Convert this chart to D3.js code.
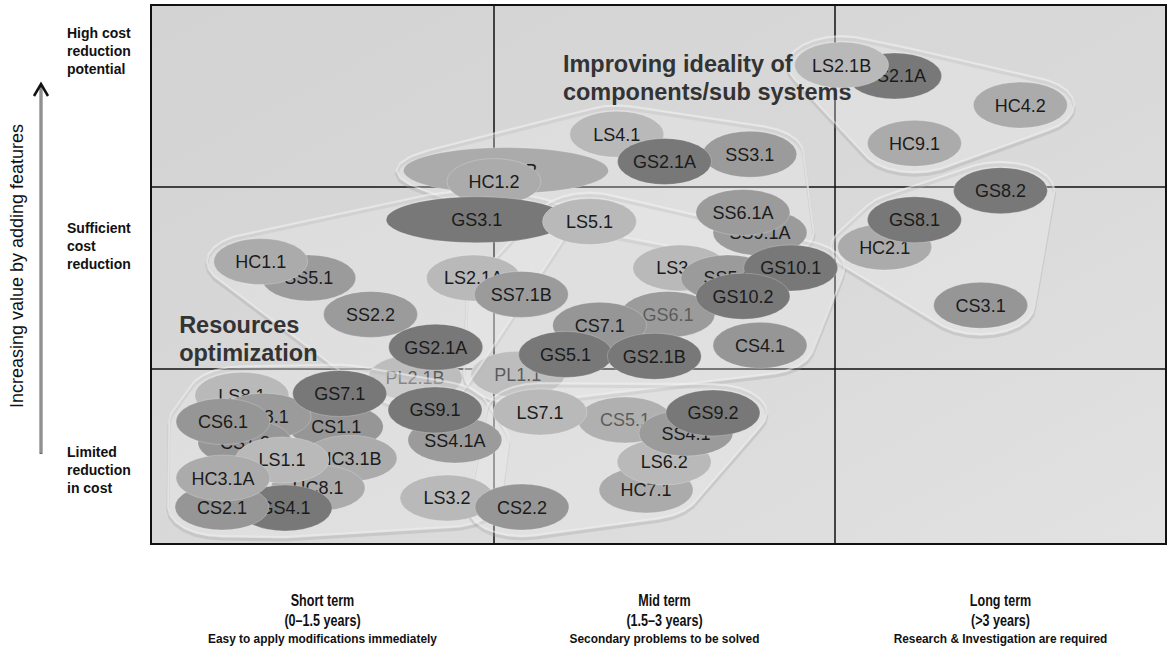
<!DOCTYPE html>
<html><head><meta charset="utf-8">
<script src="https://cdn.jsdelivr.net/npm/d3@7"></script>
<style>body{margin:0;background:#fff}svg{display:block}</style>
</head><body>
<svg id="chart" width="1168" height="651"></svg>
<script>
// ---------- data ----------
const termLabels = ["Short term", "Mid term", "Long term"];
const termRanges = ["(0–1.5 years)", "(1.5–3 years)", "(>3 years)"];
const termNotes = ["Easy to apply modifications immediately", "Secondary problems to be solved", "Research & Investigation are required"];
const costLevelLabels = [["Limited", "reduction", "in cost"], ["Sufficient", "cost", "reduction"], ["High cost", "reduction", "potential"]];
const costLevelAnchors = [0.5, 1.75, 2.82];
const axisTitle = "Increasing value by adding features";
const zoneLabels = [
  { lines: ["Resources", "optimization"], term: 0.082, cost: 1.2 },
  { lines: ["Improving ideality of", "components/sub systems"], term: 1.202, cost: 2.63 }
];
// label, term (0-3), cost level (0-3), cluster
const ideas = [
  ["GS2.1A", 2.18, 2.61, "R1"], ["LS2.1B", 2.02, 2.67, "R1"], ["HC4.2", 2.56, 2.45, "R1"], ["HC9.1", 2.24, 2.24, "R1"],
  ["GS8.2", 2.50, 1.98, "R2"], ["HC2.1", 2.15, 1.67, "R2"], ["GS8.1", 2.24, 1.82, "R2"], ["CS3.1", 2.44, 1.35, "R2"],
  ["HC1.1B", 1.035, 2.09, "T"], ["LS4.1", 1.36, 2.29, "T"], ["SS3.1", 1.75, 2.18, "T"], ["GS2.1A", 1.50, 2.14, "T"],
  ["HC1.2", 1.00, 2.03, "T"], ["GS3.1", 0.95, 1.82, "L"], ["LS5.1", 1.28, 1.81, "M"], ["SS9.1A", 1.78, 1.75, "T"],
  ["SS6.1A", 1.73, 1.86, "T"], ["LS3.1", 1.545, 1.555, "M"], ["SS5.2", 1.686, 1.50, "M"], ["GS10.1", 1.87, 1.555, "M"],
  ["GS10.2", 1.73, 1.40, "M"], ["LS2.1A", 0.94, 1.50, "L"], ["SS7.1B", 1.08, 1.41, "M"], ["GS6.1", 1.51, 1.30, "M"],
  ["CS7.1", 1.31, 1.24, "M"], ["CS4.1", 1.78, 1.13, "M"], ["GS5.1", 1.21, 1.08, "M"], ["GS2.1B", 1.47, 1.07, "M"],
  ["SS5.1", 0.46, 1.50, "L"], ["HC1.1", 0.32, 1.59, "L"], ["SS2.2", 0.64, 1.30, "L"], ["GS2.1A", 0.83, 1.12, "L"],
  ["PL2.1B", 0.77, 0.95, "L"], ["PL1.1", 1.07, 0.97, "M"],
  ["CS1.1", 0.54, 0.67, "B"], ["LS8.1", 0.265, 0.85, "B"], ["SS8.1", 0.33, 0.73, "B"], ["GS7.1", 0.55, 0.86, "B"],
  ["CS1.2", 0.274, 0.58, "B"], ["CS6.1", 0.21, 0.70, "B"], ["LS7.1", 1.135, 0.754, "BM"], ["SS4.1A", 0.886, 0.594, "B"],
  ["GS9.1", 0.828, 0.766, "B"], ["HC3.1B", 0.58, 0.49, "B"], ["HC8.1", 0.487, 0.32, "B"], ["LS1.1", 0.382, 0.48, "B"],
  ["GS4.1", 0.391, 0.206, "B"], ["CS2.1", 0.207, 0.211, "B"], ["HC3.1A", 0.21, 0.377, "B"], ["LS3.2", 0.863, 0.263, "B"],
  ["CS2.2", 1.082, 0.211, "BM"], ["CS5.1", 1.384, 0.709, "BM"], ["HC7.1", 1.446, 0.309, "BM"], ["LS6.2", 1.499, 0.469, "BM"],
  ["SS4.1", 1.563, 0.634, "BM"], ["GS9.2", 1.642, 0.749, "BM"]
];
// ideas with an unusually long time span (term units)
const termSpans = { "GS3.1": 0.53, "HC1.1B": 0.60 };
const behindHull = ["GS6.1", "PL2.1B", "PL1.1", "CS5.1"];

// ---------- layout ----------
const svg = d3.select("#chart");
const x = d3.scaleLinear().domain([0, 1, 2, 3]).range([151, 494, 835, 1166]);
const y = d3.scaleLinear().domain([0, 1, 2, 3]).range([544, 369, 187, 5]);
const tone = d3.scaleOrdinal().domain(["GS", "SS", "CS", "HC", "LS", "PL"])
  .range(["#787878", "#9b9b9b", "#969696", "#ababab", "#b9b9b9", "#a8a8a8"]);
const RX = 47, RY = 23;
const FONT = "Liberation Sans, Arial, sans-serif";

const defs = svg.append("defs");
const bg = defs.append("linearGradient").attr("id", "bg").attr("x1", 0).attr("y1", 0).attr("x2", 1).attr("y2", 1);
bg.append("stop").attr("offset", "0%").attr("stop-color", "#d3d3d3");
bg.append("stop").attr("offset", "55%").attr("stop-color", "#d9d9d9");
bg.append("stop").attr("offset", "100%").attr("stop-color", "#e2e2e2");

const X0 = x(0), X3 = x(3), Y0 = y(0), Y3 = y(3);
svg.append("rect").attr("x", X0).attr("y", Y3).attr("width", X3 - X0).attr("height", Y0 - Y3).attr("fill", "url(#bg)");

// quadrant grid
const grid = svg.append("g").attr("stroke", "#111").attr("stroke-width", 1.5);
[1, 2].forEach(v => {
  grid.append("line").attr("x1", x(v)).attr("x2", x(v)).attr("y1", Y3).attr("y2", Y0);
  grid.append("line").attr("x1", X0).attr("x2", X3).attr("y1", y(v)).attr("y2", y(v));
});

const items = ideas.map(d => {
  const span = termSpans[d[0]];
  const cx = x(d[1]), cy = y(d[2]);
  const rx = span ? (x(d[1] + span / 2) - x(d[1] - span / 2)) / 2 : RX;
  return { label: d[0], cx, cy, rx, ry: RY, group: d[3], prefix: d[0].slice(0, 2), behind: behindHull.includes(d[0]) };
});

function drawIdeas(sel, data) {
  const g = sel.selectAll("g.idea").data(data).join("g").attr("class", "idea");
  g.append("ellipse").attr("cx", d => d.cx).attr("cy", d => d.cy).attr("rx", d => d.rx).attr("ry", d => d.ry)
    .attr("fill", d => tone(d.prefix)).attr("stroke", "rgba(255,255,255,0.22)").attr("stroke-width", 1);
  g.append("text").attr("x", d => d.cx).attr("y", d => d.cy).attr("dy", "0.36em").attr("text-anchor", "middle")
    .attr("font-family", FONT).attr("font-size", 18).attr("fill", "#1b1b1b")
    .text(d => d.label);
}

drawIdeas(svg.append("g"), items.filter(d => d.behind));

// translucent cluster hulls
const hullLayer = svg.append("g");
const groups = d3.group(items, d => d.group);
const line = d3.line().curve(d3.curveLinearClosed);
for (const [key, arr] of groups) {
  const pts = [];
  arr.forEach(d => {
    for (let k = 0; k < 24; k++) {
      const a = k / 24 * Math.PI * 2;
      pts.push([d.cx + (d.rx + 7) * Math.cos(a), d.cy + (d.ry + 6) * Math.sin(a)]);
    }
  });
  const hull = d3.polygonHull(pts);
  hullLayer.append("path").attr("d", line(hull)).attr("transform", "translate(0,3)")
    .attr("fill", "none").attr("stroke", "#a0a0a0").attr("stroke-opacity", 0.3).attr("stroke-width", 3);
  hullLayer.append("path").attr("d", line(hull))
    .attr("fill", "#eeeeee").attr("fill-opacity", 0.3)
    .attr("stroke", "#f0f0f0").attr("stroke-opacity", 0.55).attr("stroke-width", 2);
}

// zone annotations
const zl = svg.append("g").attr("font-family", FONT).attr("font-weight", "bold")
  .attr("font-size", 23.5).attr("fill", "#333");
zoneLabels.forEach(z => {
  const t = zl.append("text").attr("x", x(z.term)).attr("y", y(z.cost));
  z.lines.forEach((l, i) => t.append("tspan").attr("x", x(z.term)).attr("dy", i ? 28 : 0).text(l));
});

drawIdeas(svg.append("g"), items.filter(d => !d.behind));

// border
svg.append("rect").attr("x", X0).attr("y", Y3).attr("width", X3 - X0).attr("height", Y0 - Y3)
  .attr("fill", "none").attr("stroke", "#111").attr("stroke-width", 2);

// y-side labels
const yl = svg.append("g").attr("font-family", FONT).attr("font-weight", "bold")
  .attr("font-size", 14).attr("fill", "#111");
costLevelLabels.forEach((lines, i) => {
  const t = yl.append("text").attr("x", 67).attr("y", y(costLevelAnchors[i]));
  lines.forEach((l, j) => t.append("tspan").attr("x", 67).attr("dy", j ? 18 : 0).text(l));
});

// vertical arrow + title
const ax = svg.append("g");
ax.append("line").attr("x1", 41).attr("x2", 41).attr("y1", 85).attr("y2", 454).attr("stroke", "#666").attr("stroke-width", 3);
ax.append("line").attr("x1", 41).attr("x2", 41).attr("y1", 88).attr("y2", 453).attr("stroke", "#bbb").attr("stroke-width", 1);
ax.append("path").attr("d", "M34,96 L41,84 L48,96").attr("fill", "none").attr("stroke", "#111").attr("stroke-width", 2.5);
svg.append("text").attr("transform", "translate(23,266) rotate(-90)").attr("text-anchor", "middle")
  .attr("font-family", FONT).attr("font-size", 18).attr("fill", "#111").text(axisTitle);

// x-side labels
const xl = svg.append("g").attr("font-family", FONT).attr("font-weight", "bold").attr("fill", "#111");
termLabels.forEach((t, i) => {
  const cx = (x(i) + x(i + 1)) / 2;
  const rows = [[t, 17, 606, 0.74], [termRanges[i], 17, 626, 0.74], [termNotes[i], 13.5, 643, 0.88]];
  rows.forEach(([txt, fs, yy, sx]) => {
    xl.append("text").attr("transform", `translate(${cx},${yy}) scale(${sx},1)`).attr("text-anchor", "middle")
      .attr("font-size", fs).text(txt);
  });
});
</script>
</body></html>
